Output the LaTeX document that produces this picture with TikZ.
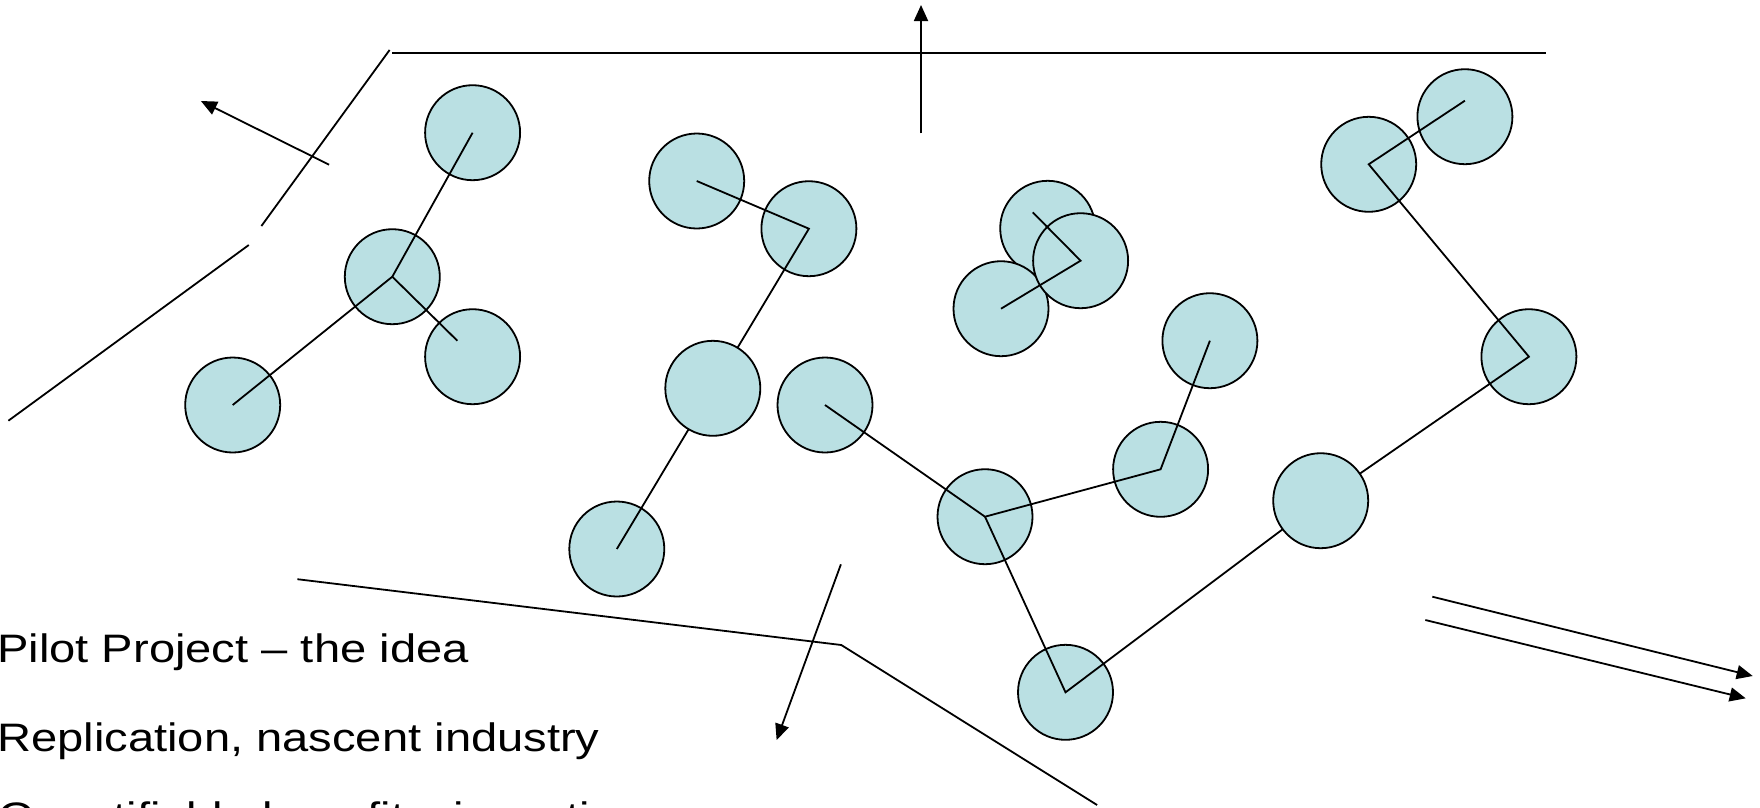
\documentclass[tikz,border=0pt]{standalone}
\usepackage{fontspec}
\setmainfont{Liberation Sans}
\usetikzlibrary{arrows.meta}
\definecolor{ballfill}{RGB}{186,224,227}
\tikzset{
  ball/.style={circle, draw=black, fill=ballfill, line width=1.8pt, minimum size=95pt, inner sep=0pt},
  link/.style={draw=black, line width=1.8pt},
  arr/.style={draw=black, line width=1.8pt, -{Triangle[length=16pt,width=14pt]}},
  lbl/.style={anchor=base west, inner sep=0pt, font=\fontsize{39.7}{40}\selectfont}
}
\begin{document}
\begin{tikzpicture}[x=1pt,y=-1pt]
\clip (0,0) rectangle (1760,807);
\fill[white] (0,0) rectangle (1760,807);
% circles (first layer)
\node[ball] (A) at (472.6,132.7) {};
\node[ball] (B) at (392.3,276.7) {};
\node[ball] (C) at (472.6,356.7) {};
\node[ball] (D) at (232.7,405) {};
\node[ball] (E) at (696.7,181) {};
\node[ball] (F) at (808.9,228.7) {};
\node[ball] (H) at (616.8,549) {};
\node[ball] (I) at (825,405) {};
\node[ball] (J) at (985,516.7) {};
\node[ball] (K) at (1160.6,469.3) {};
\node[ball] (L) at (1209.9,340.7) {};
\node[ball] (M) at (1065.5,692.3) {};
\node[ball] (O) at (1528.9,356.7) {};
\node[ball] (P) at (1368.7,164.3) {};
\node[ball] (Q) at (1464.9,116.7) {};
\node[ball] (R) at (1047.7,228.3) {};
\node[ball] (T) at (1001,308.7) {};
\node[ball] (S) at (1080.6,260.7) {};
% inner end points
\coordinate (c1) at (457.3,340.7);
\coordinate (q1) at (1464.9,100.7);
\coordinate (r1) at (1032.7,212.3);
% connectors
\draw[link] (A.center) -- (B.center) -- (D.center);
\draw[link] (B.center) -- (c1);
\draw[link] (E.center) -- (F.center) -- (H.center);
\draw[link] (I.center) -- (J.center) -- (K.center) -- (L.center);
\draw[link] (J.center) -- (M.center) -- (1320.7,500.7) -- (O.center) -- (P.center) -- (q1);
\draw[link] (r1) -- (S.center) -- (T.center);
% circles on top of lines
\node[ball] (G) at (712.8,388.3) {};
\node[ball] (N) at (1320.7,500.7) {};
% boundary lines
\coordinate (b1) at (389.6,50);
\coordinate (b2) at (261.4,226);
\coordinate (b3) at (248.8,245);
\coordinate (b4) at (8.4,420.7);
\coordinate (h1) at (392.3,52.7);
\coordinate (h2) at (1545.5,52.7);
\coordinate (l1) at (297.4,579.2);
\coordinate (l2) at (841.3,645);
\coordinate (l3) at (1097.1,805);
\draw[link] (b1) -- (b2);
\draw[link] (b3) -- (b4);
\draw[link] (h1) -- (h2);
\draw[link] (l1) -- (l2) -- (l3);
% arrows
\coordinate (a1s) at (329.1,164.7);
\coordinate (a1e) at (200.9,101);
\coordinate (a2s) at (921,133.3);
\coordinate (a2e) at (921,5);
\coordinate (a3s) at (840.9,564.3);
\coordinate (a3e) at (776.6,740);
\coordinate (a4s) at (1432.3,596.7);
\coordinate (a4e) at (1752.7,676);
\coordinate (a5s) at (1425.3,620);
\coordinate (a5e) at (1745.7,698.3);
\draw[arr] (a1s) -- (a1e);
\draw[arr] (a2s) -- (a2e);
\draw[arr] (a3s) -- (a3e);
\draw[arr] (a4s) -- (a4e);
\draw[arr] (a5s) -- (a5e);
% text
\node[lbl] (t1) at (-3,662) {\scalebox{1.187}[1]{Pilot Project – the idea}};
\node[lbl] (t2) at (-3,751) {\scalebox{1.187}[1]{Replication, nascent industry}};
\node[lbl] (t3) at (-2,830) {\scalebox{1.187}[1]{Quantifiable benefits, incentives}};
\end{tikzpicture}
\end{document}
